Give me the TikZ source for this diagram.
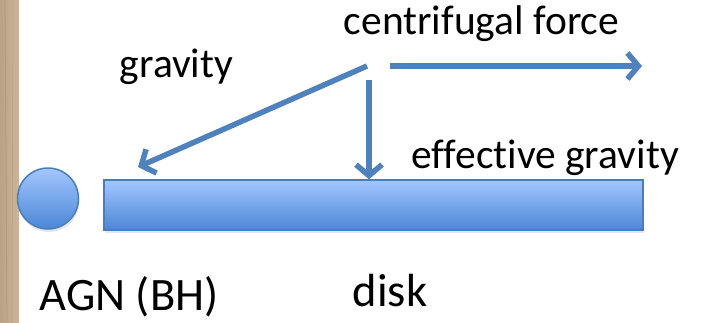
\documentclass[tikz,border=0pt]{standalone}
\usepackage{fontspec}
\setmainfont[Ligatures={NoCommon}]{Carlito}
\usetikzlibrary{arrows.meta,shadows}
\definecolor{ForceBlue}{HTML}{4F81BD}
\definecolor{EdgeBlue}{HTML}{4A7EBB}
\definecolor{TopBlue}{HTML}{A3C6FF}
\definecolor{BottomBlue}{HTML}{4B87D5}
\definecolor{Wood}{HTML}{CDB596}

\begin{document}
\begin{tikzpicture}[x=1pt,y=-1pt,
    body/.style={draw=EdgeBlue,line width=1.5pt,top color=TopBlue,
      bottom color=BottomBlue,
      drop shadow={opacity=0.2,shadow xshift=1pt,shadow yshift=-3pt}},
    force/.style={ForceBlue,line width=5.5pt,
      -{Straight Barb[length=11pt,width=26pt]}},
    lbl/.style={font=\fontsize{41.5}{45}\selectfont,anchor=base},
    biglbl/.style={font=\fontsize{46.5}{50}\selectfont,anchor=base}
  ]
    \useasboundingbox (0,0) rectangle (701,322);
    % wooden edge on the left
    \shade[left color=Wood!90!black,right color=Wood] (0,0) rectangle (19,322);
    \draw[Wood!70!black,opacity=0.3,line width=0.8pt] (5,0) -- (7,322);
    \draw[Wood!70!black,opacity=0.2,line width=0.6pt] (13,0) -- (12,322);

    % black hole and disk
    \node[body,circle,minimum size=61pt,inner sep=0pt] (agn) at (48,198.5) {};
    \node[body,rectangle,minimum width=539pt,minimum height=50pt,
      inner sep=0pt] (disk) at (373.5,205) {};

    % force arrows
    \coordinate (gstart) at (367,66);
    \coordinate (gend) at (138,167);
    \coordinate (cstart) at (390,66);
    \coordinate (cend) at (642,66);
    \coordinate (estart) at (369,80);
    \draw[force] (gstart) -- (gend);
    \draw[force] (cstart) -- (cend);
    \draw[force] (estart) -- (estart |- disk.north);

    % labels
    \node[lbl] (cflabel) at (481.5,34) {centrifugal force};
    \node[lbl] (glabel) at (176.5,77) {gravity};
    \node[lbl] (eglabel) at (545,168) {effective gravity};
    \node[biglbl] (agnlabel) at (129,310) {AGN (BH)};
    \node[biglbl] (disklabel) at (390,306) {disk};
\end{tikzpicture}
\end{document}
